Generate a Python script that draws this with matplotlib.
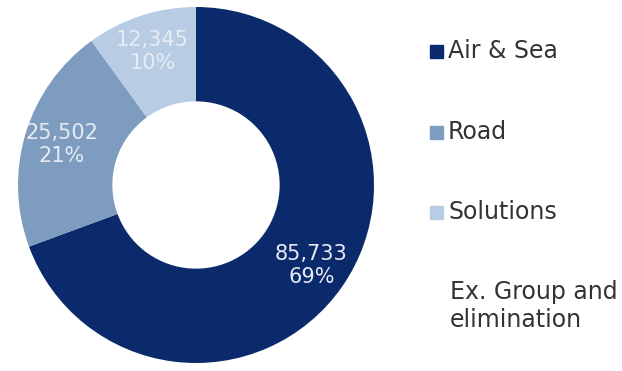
import matplotlib
matplotlib.use('Agg')
import matplotlib.pyplot as plt
from matplotlib.patches import Rectangle

plt.rcParams['font.family'] = ['DejaVu Sans']

segments = ["Air & Sea", "Road", "Solutions"]
values = [85733, 25502, 12345]
colors = ["#0b2a6b", "#7e9bc0", "#b8cde4"]
extra_label = "Ex. Group and\nelimination"

W, H = 622, 371
fig = plt.figure(figsize=(W / 100, H / 100), dpi=100)

# donut, placed in pixel coordinates
cx, cy, r = 196, 185, 178
ax = fig.add_axes([(cx - r) / W, (H - cy - r) / H, 2 * r / W, 2 * r / H])
total = sum(values)


def fmt(pct):
    v = round(pct * total / 100)
    return f"{v:,}\n{pct:.0f}%"


wedges, texts, autotexts = ax.pie(
    values, colors=colors, startangle=90, counterclock=False,
    wedgeprops=dict(width=0.53, edgecolor="none"),
    autopct=fmt, pctdistance=0.79,
    textprops=dict(color="#e6ebf4", fontsize=15, linespacing=1.2),
)
ax.set_xlim(-1, 1)
ax.set_ylim(-1, 1)
ax.set_aspect("equal")
ax.axis("off")

# legend drawn by hand
lax = fig.add_axes([0, 0, 1, 1])
lax.set_xlim(0, W)
lax.set_ylim(H, 0)
lax.axis("off")
ys = [51, 132, 212]
for y, name, c in zip(ys, segments, colors):
    lax.add_patch(Rectangle((430, y - 6.5), 13, 13, color=c))
    lax.text(448, y, name, fontsize=17, va="center", color="#333333")
lax.text(450, 306, extra_label, fontsize=17, va="center", color="#333333",
         linespacing=1.25)

fig.savefig("out.png", dpi=100)
